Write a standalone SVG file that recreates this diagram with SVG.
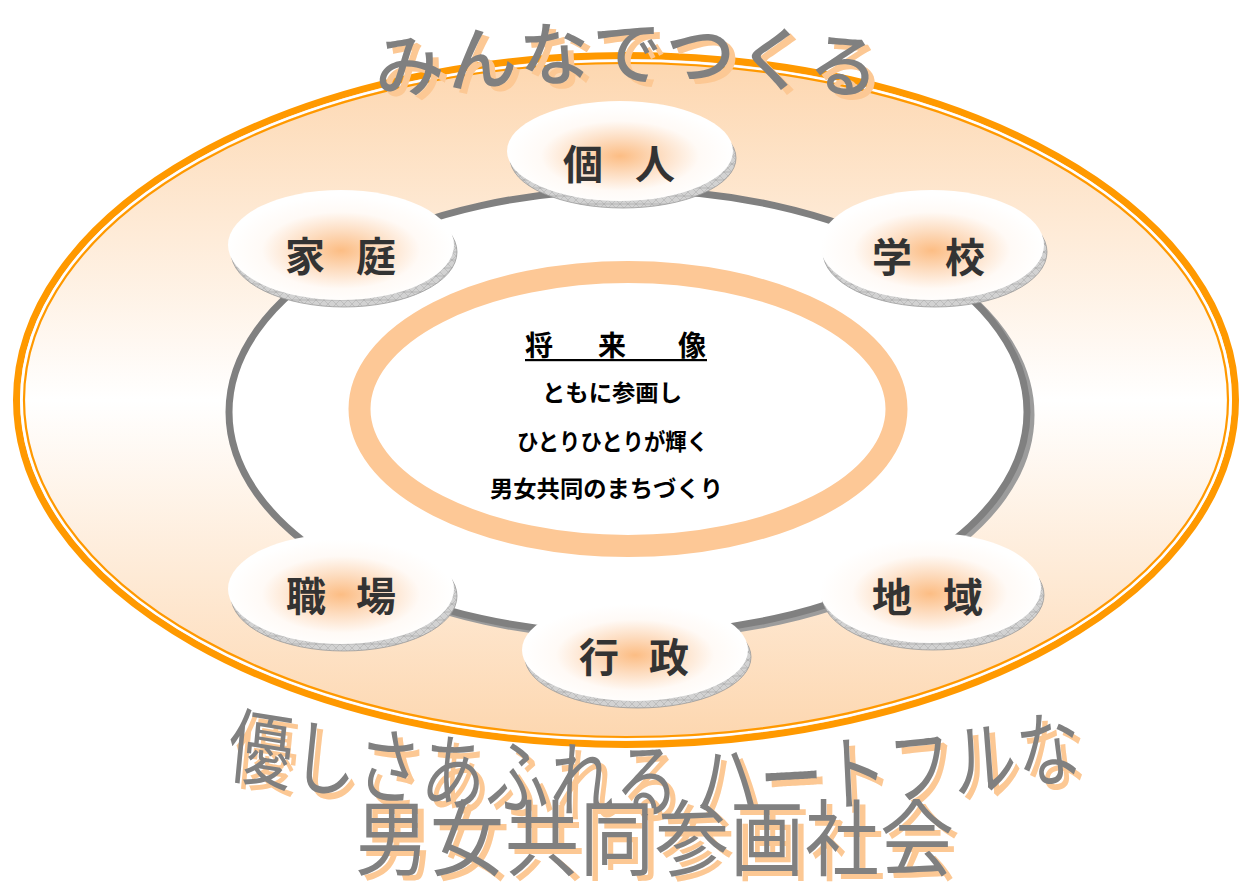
<svg xmlns="http://www.w3.org/2000/svg" width="1239" height="893" viewBox="0 0 1239 893">
<style>
.lbl{font-family:'Noto Sans CJK JP','Noto Sans CJK SC',sans-serif;font-weight:700;font-size:40px;fill:#333;text-anchor:middle}
.ctr{font-family:'Noto Sans CJK JP','Noto Sans CJK SC',sans-serif;font-weight:700;font-size:23px;fill:#000}
.big{font-family:'Noto Sans CJK JP','Noto Sans CJK SC',sans-serif;font-weight:500;text-anchor:middle}
.gray{fill:#808080}
.shd{fill:#fcc894}
.face{fill:url(#nodeGrad)}
.side{fill:url(#hatch);stroke:#9a9a9a;stroke-width:0.8}
</style>
<defs>
<linearGradient id="outerGrad" x1="0" y1="0" x2="0" y2="1">
<stop offset="0" stop-color="#fdd6ae"/>
<stop offset="0.5" stop-color="#ffffff"/>
<stop offset="1" stop-color="#fdd6ae"/>
</linearGradient>
<radialGradient id="nodeGrad" cx="0.5" cy="0.55" r="0.5">
<stop offset="0" stop-color="#fcbd84"/>
<stop offset="0.35" stop-color="#fddcbf"/>
<stop offset="0.7" stop-color="#fffaf6"/>
<stop offset="1" stop-color="#ffffff"/>
</radialGradient>
<pattern id="hatch" width="8" height="8" patternUnits="userSpaceOnUse">
<rect width="8" height="8" fill="#d2d2d2"/>
<path d="M0 0 L8 8 M8 0 L0 8" stroke="#b0b0b0" stroke-width="0.6"/>
<path d="M0 4 H8" stroke="#9c9c9c" stroke-width="0.5"/>
</pattern>
<path id="titleArc" d="M 360 98 A 1850 1850 0 0 1 895 98"/>
<path id="bottomArc" d="M 200 592 A 3225 3225 0 0 0 1110 592"/>
</defs>

<g id="outer">
<ellipse cx="626" cy="400" rx="609.5" ry="344.5" fill="url(#outerGrad)" stroke="#ff9900" stroke-width="7"/>
<ellipse cx="626" cy="400" rx="604.5" ry="339.5" fill="none" stroke="#ffffff" stroke-width="2.5"/>
<ellipse cx="626" cy="400" rx="602" ry="337" fill="none" stroke="#ff9900" stroke-width="2.2"/>
</g>

<g id="connectors">
<ellipse cx="632" cy="415" rx="399" ry="222" fill="none" stroke="#9c9c9c" stroke-width="7"/>
<ellipse cx="628" cy="412" rx="399" ry="222" fill="#ffffff" stroke="#808080" stroke-width="7"/>
</g>

<g id="inner-ring">
<ellipse cx="628" cy="409" rx="268.5" ry="137" fill="#ffffff" stroke="#fdc896" stroke-width="22"/>
</g>

<g id="node-kojin">
<ellipse class="side" cx="623" cy="158" rx="113" ry="50"/>
<ellipse class="face" cx="620" cy="151" rx="113" ry="50"/>
<text class="lbl" y="179"><tspan x="583">個</tspan><tspan x="655">人</tspan></text>
</g>
<g id="node-katei">
<ellipse class="side" cx="344" cy="252" rx="113" ry="55"/>
<ellipse class="face" cx="341" cy="245" rx="113" ry="55"/>
<text class="lbl" y="271"><tspan x="305">家</tspan><tspan x="376">庭</tspan></text>
</g>
<g id="node-gakko">
<ellipse class="side" cx="935" cy="252" rx="112" ry="55"/>
<ellipse class="face" cx="932" cy="245" rx="112" ry="55"/>
<text class="lbl" y="272"><tspan x="892">学</tspan><tspan x="965">校</tspan></text>
</g>
<g id="node-shokuba">
<ellipse class="side" cx="344" cy="596" rx="113" ry="55"/>
<ellipse class="face" cx="341" cy="589" rx="113" ry="55"/>
<text class="lbl" y="611"><tspan x="306">職</tspan><tspan x="376">場</tspan></text>
</g>
<g id="node-chiiki">
<ellipse class="side" cx="933" cy="595" rx="111" ry="55"/>
<ellipse class="face" cx="930" cy="588" rx="111" ry="55"/>
<text class="lbl" y="612"><tspan x="892">地</tspan><tspan x="963">域</tspan></text>
</g>
<g id="node-gyosei">
<ellipse class="side" cx="638" cy="657" rx="113" ry="51"/>
<ellipse class="face" cx="635" cy="650" rx="113" ry="51"/>
<text class="lbl" y="672"><tspan x="599">行</tspan><tspan x="669">政</tspan></text>
</g>

<g id="vision">
<text class="ctr" style="font-size:28px" y="356"><tspan x="525">将</tspan><tspan x="598">来</tspan><tspan x="678">像</tspan></text>
<rect x="525" y="359" width="182" height="2.2" fill="#000"/>
<text class="ctr" x="542" y="401" textLength="140" lengthAdjust="spacingAndGlyphs">ともに参画し</text>
<text class="ctr" x="517" y="450" textLength="191" lengthAdjust="spacingAndGlyphs">ひとりひとりが輝く</text>
<text class="ctr" x="490" y="497" textLength="233" lengthAdjust="spacingAndGlyphs">男女共同のまちづくり</text>
</g>

<g id="title-top">
<text class="big shd" style="font-size:70px;letter-spacing:2px" transform="translate(6,5)"><textPath href="#titleArc" startOffset="50%">みんなでつくる</textPath></text>
<text class="big gray" style="font-size:70px;letter-spacing:2px"><textPath href="#titleArc" startOffset="50%">みんなでつくる</textPath></text>
</g>

<g id="title-bottom">
<g transform="translate(6,6) scale(1,1.3)">
<text class="big shd" style="font-size:64px;letter-spacing:1px;font-weight:400"><textPath href="#bottomArc" startOffset="50%">優しさあふれる ハートフルな</textPath></text>
</g>
<g transform="scale(1,1.3)">
<text class="big gray" style="font-size:64px;letter-spacing:1px;font-weight:400"><textPath href="#bottomArc" startOffset="50%">優しさあふれる ハートフルな</textPath></text>
</g>
<g transform="translate(6,5) scale(1,1.12)">
<text class="big shd" x="655" y="776" style="font-size:74px;letter-spacing:1px;font-weight:400">男女共同参画社会</text>
</g>
<g transform="scale(1,1.12)">
<text class="big gray" x="655" y="776" style="font-size:74px;letter-spacing:1px;font-weight:400">男女共同参画社会</text>
</g>
</g>
</svg>
